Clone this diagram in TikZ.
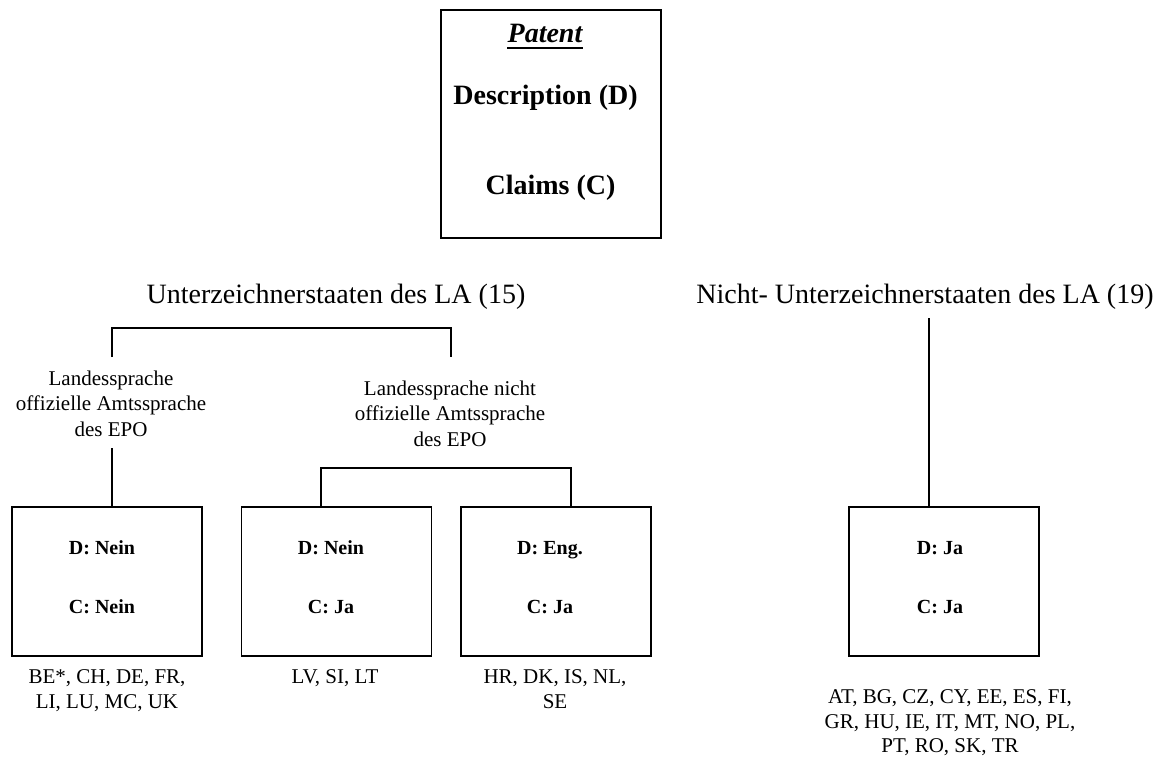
\documentclass[tikz,border=0pt]{standalone}
\usepackage{fontspec}
\setmainfont{Liberation Serif}
\begin{document}
\begin{tikzpicture}[x=1pt,y=-1pt,
  box/.style={draw,line width=1.5pt,minimum width=190pt,minimum height=149pt,inner sep=0pt},
  conn/.style={line width=1.2pt},
  head/.style={font=\fontsize{28}{30}\selectfont,inner sep=0pt,anchor=base},
  big/.style={font=\bfseries\fontsize{28}{30}\selectfont,inner sep=0pt,anchor=base},
  lbl/.style={font=\fontsize{21}{25.5}\selectfont,align=center,inner sep=0pt},
  val/.style={font=\bfseries\fontsize{20}{24}\selectfont,inner sep=0pt,anchor=base},
  lst/.style={font=\fontsize{21}{25}\selectfont,align=center,inner sep=0pt}]
\useasboundingbox (0,0) rectangle (1159,756);

% Patent box
\node[draw,line width=1.5pt,minimum width=220pt,minimum height=228pt,inner sep=0pt] (patent) at (551,124) {};
\node[font=\bfseries\itshape\fontsize{28}{30}\selectfont,inner sep=0pt,anchor=base] (pat) at (545,42) {Patent};
\draw[line width=1.7pt] ([yshift=-6pt]pat.base west) -- ([yshift=-6pt]pat.base east);
\node[big] (desc) at (545.5,104) {Description (D)};
\node[big] (claims) at (550.5,194) {Claims (C)};

% Headings
\node[head] (sig) at (336,303) {Unterzeichnerstaaten des LA (15)};
\node[head] (nsig) at (925,303) {Nicht- Unterzeichnerstaaten des LA (19)};

% Labels
\node[lbl] (lab1) at (111,403.4) {Landessprache\\offizielle Amtssprache\\des EPO};
\node[lbl] (lab2) at (450,413.4) {Landessprache nicht\\offizielle Amtssprache\\des EPO};

% Boxes
\node[box] (b1) at (107,581.5) {};
\node[box] (b2) at (336.5,581.5) {};
\node[box] (b3) at (556,581.5) {};
\node[box] (b4) at (944,581.5) {};

\node[val] (d1) at (102,554.5) {D: Nein};
\node[val] (k1) at (102,613.5) {C: Nein};
\node[val] (d2) at (331,554.5) {D: Nein};
\node[val] (k2) at (331,613.5) {C: Ja};
\node[val] (d3) at (550,554.5) {D: Eng.};
\node[val] (k3) at (550,613.5) {C: Ja};
\node[val] (d4) at (940,554.5) {D: Ja};
\node[val] (k4) at (940,613.5) {C: Ja};

% Country lists
\node[lst] (s1) at (107,691) {BE*, CH, DE, FR,\\LI, LU, MC, UK};
\node[lst] (s2) at (335,678.5) {LV, SI, LT};
\node[lst] (s3) at (555,689.5) {HR, DK, IS, NL,\\SE};
\node[lst,font=\fontsize{21}{24.5}\selectfont] (s4) at (950,723) {AT, BG, CZ, CY, EE, ES, FI,\\GR, HU, IE, IT, MT, NO, PL,\\PT, RO, SK, TR};

% Connector points
\coordinate (bl) at (112,357);
\coordinate (br) at (451,357);
\coordinate (bt) at (0,328);
\coordinate (l1) at (112,448);
\coordinate (sl) at (321,507);
\coordinate (sr) at (571,507);
\coordinate (st) at (0,468);
\coordinate (r1) at (929,318);
\coordinate (r2) at (929,507);

\draw[conn] (bl) -- (bl |- bt) -- (br |- bt) -- (br);
\draw[conn] (l1) -- (l1 |- b1.north);
\draw[conn] (sl) -- (sl |- st) -- (sr |- st) -- (sr);
\draw[conn] (r1) -- (r2);
\end{tikzpicture}
\end{document}
